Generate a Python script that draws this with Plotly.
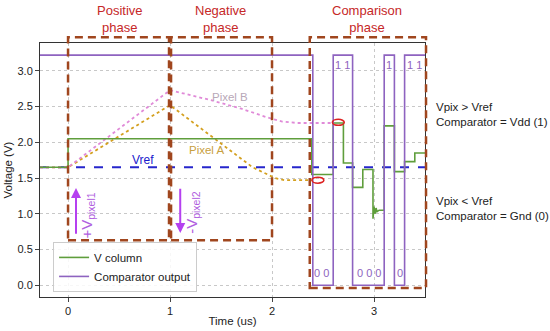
import plotly.graph_objects as go

# ---- data ----
vref = 1.65
t_vref = [-0.275, 3.5]

pixA_t = [-0.275, 0.0, 1.0, 1.81, 2.03, 2.12, 2.39]
pixA_v = [1.65, 1.65, 2.52, 1.65, 1.50, 1.47, 1.47]

pixB_t = [-0.275, 0.0, 1.0, 1.4, 1.7, 1.95, 2.1, 2.25, 2.6]
pixB_v = [1.65, 1.65, 2.73, 2.59, 2.47, 2.35, 2.29, 2.27, 2.27]

vcol_t = [-0.275, 0.0, 0.0, 2.39, 2.39, 2.60, 2.60, 2.70, 2.70, 2.79, 2.79, 2.89, 2.89, 2.99,
          2.99, 3.00, 3.01, 3.02, 3.03, 3.05, 3.10, 3.10, 3.20, 3.20, 3.30, 3.30, 3.40, 3.40, 3.5]
vcol_v = [1.65, 1.65, 2.05, 2.05, 1.55, 1.55, 2.27, 2.27, 1.71, 1.71, 1.37, 1.37, 1.62, 1.62,
          0.93, 1.10, 1.00, 1.08, 1.03, 1.05, 1.05, 2.23, 2.23, 1.59, 1.59, 1.73, 1.73, 1.85, 1.85]

comp_t = [-0.275, 2.40, 2.40, 2.60, 2.60, 2.79, 2.79, 3.10, 3.10, 3.20, 3.20, 3.30, 3.30, 3.5]
comp_v = [3.22, 3.22, 0.0, 0.0, 3.22, 3.22, 0.0, 0.0, 3.22, 3.22, 0.0, 0.0, 3.22, 3.22]

bit_labels = ["1 1", "1", "1 1", "0 0", "0 0 0", "0"]
bit_t = [2.69, 3.15, 3.40, 2.49, 2.95, 3.25]
bit_v = [3.08, 3.08, 3.08, 0.17, 0.17, 0.17]

phase_labels = ["Positive<br>phase", "Negative<br>phase", "Comparison<br>phase"]
phase_t = [0.51, 1.49, 2.93]

# boxes: (t0, t1, v0, v1)
boxes = [(0.0, 0.99, 0.63, 3.47), (1.01, 2.0, 0.63, 3.47), (2.37, 3.51, -0.04, 3.47)]

XR = [-0.275, 3.5]
YR = [-0.165, 3.39]

def px(t):
    return (t - XR[0]) / (XR[1] - XR[0])

def py(v):
    return (v - YR[0]) / (YR[1] - YR[0])

FONT = "Liberation Sans, Arial, sans-serif"
GREEN = "#5f9e3c"
PURPLE = "#8e63c0"
BROWN = "#a0461e"
RED = "#c62828"

fig = go.Figure()

fig.add_trace(go.Scatter(x=t_vref, y=[vref, vref], mode="lines", showlegend=False,
                         line=dict(color="#2626cc", width=2, dash="dash")))
fig.add_trace(go.Scatter(x=pixA_t, y=pixA_v, mode="lines", showlegend=False,
                         line=dict(color="#d4a020", width=1.8, dash="dot")))
fig.add_trace(go.Scatter(x=pixB_t, y=pixB_v, mode="lines", showlegend=False,
                         line=dict(color="#e08ad8", width=1.8, dash="dot")))
fig.add_trace(go.Scatter(x=vcol_t, y=vcol_v, mode="lines", name="V column",
                         line=dict(color=GREEN, width=1.6)))
fig.add_trace(go.Scatter(x=comp_t, y=comp_v, mode="lines", name="Comparator output",
                         line=dict(color=PURPLE, width=1.6)))

shapes = []
for (t0, t1, v0, v1) in boxes:
    shapes.append(dict(type="rect", xref="paper", yref="paper",
                       x0=px(t0), x1=px(t1), y0=py(v0), y1=py(v1),
                       line=dict(color=BROWN, width=2.5, dash="8px,5px")))
# red ellipses
for (tc, vc) in [(2.45, 1.47), (2.65, 2.28)]:
    shapes.append(dict(type="circle", xref="x", yref="y",
                       x0=tc - 0.058, x1=tc + 0.058, y0=vc - 0.042, y1=vc + 0.042,
                       line=dict(color="#dd2222", width=1.6)))

annotations = []
for lab, t in zip(phase_labels, phase_t):
    annotations.append(dict(x=t, y=1.0, xref="x", yref="paper", yshift=6, text=lab,
                            showarrow=False, yanchor="bottom",
                            font=dict(color=RED, size=13, family=FONT)))
for lab, t, v in zip(bit_labels, bit_t, bit_v):
    annotations.append(dict(x=t, y=v, xref="x", yref="y", text=lab, showarrow=False,
                            font=dict(color=PURPLE, size=11, family=FONT)))

annotations += [
    dict(x=0.73, y=1.75, xref="x", yref="y", text="Vref", showarrow=False,
         font=dict(color="#1a1acc", size=12, family=FONT)),
    dict(x=1.59, y=2.63, xref="x", yref="y", text="Pixel B", showarrow=False,
         font=dict(color="#b8a8b8", size=11.5, family=FONT)),
    dict(x=1.36, y=1.89, xref="x", yref="y", text="Pixel A", showarrow=False,
         font=dict(color="#c8a040", size=11.5, family=FONT)),
    # inner arrows
    dict(x=0.078, y=1.36, ax=0.078, ay=0.70, xref="x", yref="y", axref="x", ayref="y",
         text="", showarrow=True, arrowhead=2, arrowsize=1, arrowwidth=2, arrowcolor="#b540f0"),
    dict(x=1.10, y=0.73, ax=1.10, ay=1.37, xref="x", yref="y", axref="x", ayref="y",
         text="", showarrow=True, arrowhead=2, arrowsize=1, arrowwidth=2, arrowcolor="#b540f0"),
    dict(x=0.19, y=0.98, xref="x", yref="y", text="+V<sub>pixel1</sub>", textangle=-90,
         showarrow=False, font=dict(color="#b060e0", size=15, family=FONT)),
    dict(x=1.22, y=1.02, xref="x", yref="y", text="-V<sub>pixel2</sub>", textangle=-90,
         showarrow=False, font=dict(color="#b060e0", size=15, family=FONT)),
    # right side arrows
    dict(x=3.57, y=2.80, ax=3.57, ay=2.14, xref="x", yref="y", axref="x", ayref="y",
         text="", showarrow=True, arrowhead=2, arrowsize=1, arrowwidth=2, arrowcolor="#9a48e8"),
    dict(x=3.57, y=0.73, ax=3.57, ay=1.40, xref="x", yref="y", axref="x", ayref="y",
         text="", showarrow=True, arrowhead=2, arrowsize=1, arrowwidth=2, arrowcolor="#9a48e8"),
    dict(x=1.0, y=py(2.39), xref="paper", yref="paper", xshift=9, xanchor="left",
         yanchor="middle",
         text="Vpix > Vref<br>Comparator = Vdd (1)", showarrow=False, align="left",
         font=dict(color="#222", size=11.5, family=FONT)),
    dict(x=1.0, y=py(1.08), xref="paper", yref="paper", xshift=9, xanchor="left",
         yanchor="middle",
         text="Vpix < Vref<br>Comparator = Gnd (0)", showarrow=False, align="left",
         font=dict(color="#222", size=11.5, family=FONT)),
]

fig.update_layout(
    width=550, height=331,
    margin=dict(l=40, r=125, t=43, b=34, autoexpand=False),
    paper_bgcolor="white", plot_bgcolor="white",
    font=dict(family=FONT, size=11, color="#222"),
    shapes=shapes, annotations=annotations,
    legend=dict(x=0.034, y=0.02, xanchor="left", yanchor="bottom",
                bgcolor="rgba(255,255,255,0.85)", bordercolor="#cccccc", borderwidth=1,
                font=dict(size=11.5, family=FONT), tracegroupgap=0),
)
fig.update_xaxes(range=XR, tickvals=[0, 1, 2, 3], showline=True, mirror=True, automargin=False,
                 linecolor="#333", linewidth=1, ticks="outside", ticklen=4,
                 showgrid=True, gridcolor="#c8c8c8", griddash="dot", zeroline=False,
                 title=dict(text="Time (us)", standoff=0, font=dict(size=11.5)))
fig.update_yaxes(range=YR, tickvals=[0, 0.5, 1, 1.5, 2, 2.5, 3], tickformat=".1f",
                 showline=True, mirror=True, automargin=False,
                 linecolor="#333", linewidth=1, ticks="outside", ticklen=4,
                 showgrid=True, gridcolor="#c8c8c8", griddash="dot", zeroline=False,
                 title=dict(text="Voltage (V)", standoff=2, font=dict(size=11.5)))

fig.write_html("out.html", config={"displayModeBar": False},
               post_script="document.body.style.margin='0';")
